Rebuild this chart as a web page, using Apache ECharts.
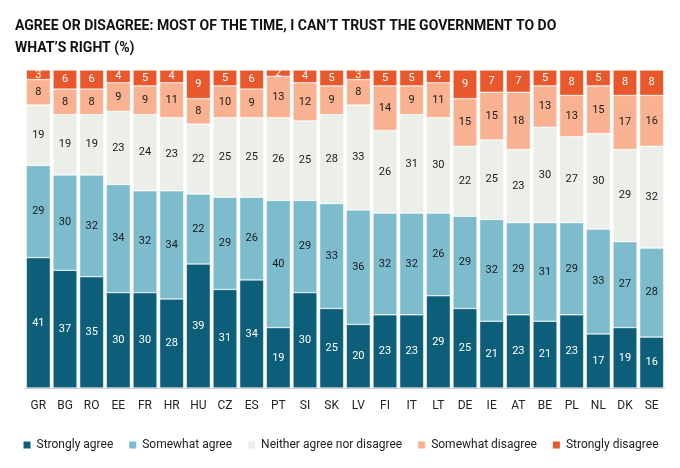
<!DOCTYPE html>
<html><head><meta charset="utf-8">
<script src="https://cdn.jsdelivr.net/npm/echarts@6/dist/echarts.min.js"></script>
<style>html,body{margin:0;background:#fff}#c{width:680px;height:468px}</style>
</head><body><div id="c"></div>
<script>
const countries=["GR","BG","RO","EE","FR","HR","HU","CZ","ES","PT","SI","SK","LV","FI","IT","LT","DE","IE","AT","BE","PL","NL","DK","SE"];
const stronglyAgree=[41,37,35,30,30,28,39,31,34,19,30,25,20,23,23,29,25,21,23,21,23,17,19,16];
const somewhatAgree=[29,30,32,34,32,34,22,29,26,40,29,33,36,32,32,26,29,32,29,31,29,33,27,28];
const neither=[19,19,19,23,24,23,22,25,25,26,25,28,33,26,31,30,22,25,23,30,27,30,29,32];
const somewhatDisagree=[8,8,8,9,9,11,8,10,9,13,12,9,8,14,9,11,15,15,18,13,13,15,17,16];
const stronglyDisagree=[3,6,6,4,5,4,9,5,6,2,4,5,3,5,5,4,9,7,7,5,8,5,8,8];
const names=["Strongly agree","Somewhat agree","Neither agree nor disagree","Somewhat disagree","Strongly disagree"];
const colors=["#0d5e79","#7dbccd","#eceee8","#f8b291","#e8582c"];
const labelColors=["#fff","#1a1a1a","#1a1a1a","#1a1a1a","#fff"];
const data=[stronglyAgree,somewhatAgree,neither,somewhatDisagree,stronglyDisagree];
const chart=echarts.init(document.getElementById('c'));
chart.setOption({
  animation:false,
  title:{text:"AGREE OR DISAGREE: MOST OF THE TIME, I CAN’T TRUST THE GOVERNMENT TO DO\nWHAT’S RIGHT (%)",left:10,top:10,
    textStyle:{fontFamily:"Roboto",fontWeight:"bold",fontSize:14,color:"#111",lineHeight:22}},
  legend:{bottom:12,left:'center',itemWidth:9,itemHeight:9,itemGap:14,icon:'rect',
    textStyle:{fontFamily:"Roboto",fontSize:12,color:"#222"},data:names},
  grid:{left:25,right:15,top:70,bottom:80},
  xAxis:{type:'category',data:countries,axisTick:{show:false},axisLine:{lineStyle:{color:'#ccc'}},
    axisLabel:{fontFamily:"Roboto",fontSize:12,color:'#222',margin:12}},
  yAxis:{type:'value',min:0,max:100,show:false},
  series:data.map((d,i)=>({name:names[i],type:'bar',stack:'a',data:d,barCategoryGap:'10%',
    itemStyle:{color:colors[i],borderColor:'#fff',borderWidth:0.5},
    label:{show:true,position:'inside',fontFamily:"Roboto",fontSize:11,color:labelColors[i]}}))
});
</script></body></html>
